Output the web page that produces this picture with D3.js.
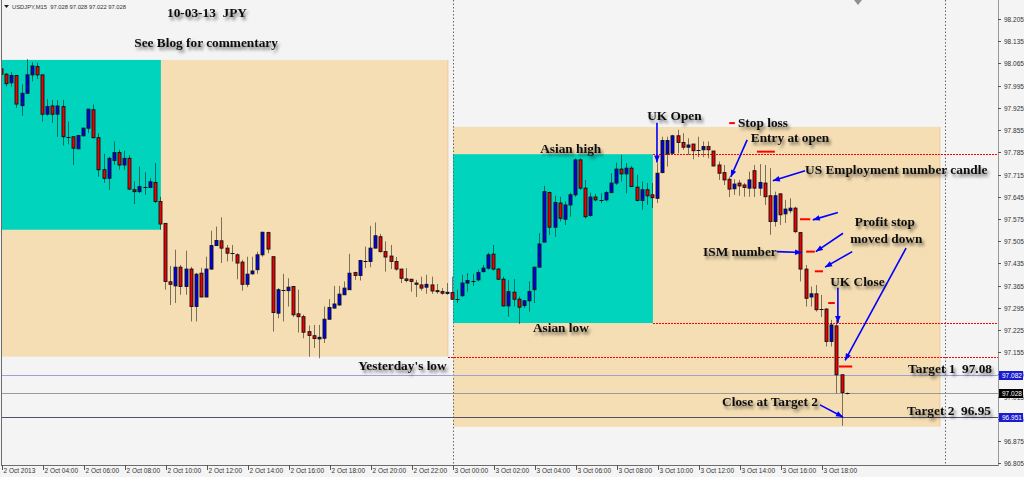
<!DOCTYPE html>
<html><head><meta charset="utf-8">
<script src="https://cdn.jsdelivr.net/npm/d3@7"></script>
<style>
html,body{margin:0;padding:0;background:#f4f4f4;}
svg{display:block;}
.ann{font-family:"Liberation Serif","Times New Roman",serif;font-weight:bold;font-size:13.33px;fill:#111;white-space:pre;}
.ax{font-family:"Liberation Sans",Arial,sans-serif;font-size:6.5px;fill:#333;}
</style>
</head><body>
<svg id="chart" width="1024" height="477"></svg>
<script>
// ---------------- DATA ----------------
const symbolInfo = "USDJPY,M15  97.028 97.028 97.022 97.028";
const firstBarTime = "2013-10-02 02:00";
const barMinutes = 15;

const open = [98.048,98.031,98.004,98.027,97.932,97.971,98.029,98.055,98.029,97.905,
97.931,97.905,97.929,97.834,97.834,97.796,97.837,97.861,97.919,97.831,
97.730,97.703,97.759,97.784,97.745,97.766,97.667,97.661,97.677,97.674,
97.690,97.630,97.561,97.377,97.364,97.423,97.362,97.417,97.299,97.404,
97.329,97.417,97.491,97.506,97.483,97.467,97.462,97.439,97.369,97.402,
97.415,97.462,97.532,97.456,97.278,97.350,97.349,97.362,97.276,97.267,
97.220,97.207,97.197,97.199,97.259,97.294,97.304,97.336,97.352,97.406,
97.397,97.444,97.441,97.483,97.519,97.472,97.458,97.441,97.417,97.386,
97.385,97.373,97.367,97.360,97.367,97.349,97.346,97.340,97.343,97.324,
97.333,97.373,97.380,97.383,97.409,97.420,97.464,97.417,97.385,97.301,
97.344,97.322,97.302,97.317,97.352,97.423,97.502,97.658,97.549,97.625,
97.574,97.619,97.651,97.761,97.672,97.586,97.644,97.635,97.635,97.658,
97.688,97.732,97.717,97.735,97.675,97.633,97.667,97.651,97.640,97.721,
97.780,97.782,97.837,97.816,97.801,97.811,97.791,97.793,97.803,97.789,
97.745,97.721,97.700,97.670,97.688,97.682,97.672,97.727,97.672,97.688,
97.648,97.567,97.654,97.591,97.601,97.609,97.532,97.417,97.329,97.339,
97.290,97.291,97.189,97.238,97.084,97.028];
const high = [98.054,98.035,98.038,98.027,97.999,98.079,98.069,98.067,98.029,97.953,
97.950,97.950,97.950,97.882,97.834,97.840,97.863,97.922,97.936,97.845,
97.780,97.771,97.819,97.793,97.790,97.777,97.693,97.740,97.722,97.703,
97.751,97.645,97.561,97.427,97.478,97.430,97.475,97.424,97.405,97.421,
97.456,97.538,97.551,97.580,97.493,97.493,97.467,97.446,97.456,97.456,
97.472,97.535,97.535,97.456,97.357,97.402,97.388,97.364,97.352,97.273,
97.239,97.241,97.241,97.299,97.322,97.364,97.364,97.378,97.465,97.409,
97.446,97.488,97.553,97.564,97.528,97.504,97.493,97.455,97.417,97.420,
97.385,97.383,97.393,97.399,97.393,97.370,97.357,97.373,97.393,97.352,
97.399,97.404,97.402,97.415,97.430,97.469,97.493,97.420,97.393,97.383,
97.385,97.330,97.320,97.378,97.423,97.530,97.679,97.661,97.648,97.645,
97.630,97.658,97.766,97.766,97.698,97.658,97.654,97.656,97.664,97.719,
97.752,97.777,97.751,97.742,97.714,97.693,97.688,97.688,97.751,97.834,
97.834,97.840,97.856,97.845,97.829,97.811,97.834,97.819,97.819,97.789,
97.756,97.745,97.708,97.700,97.698,97.688,97.724,97.745,97.748,97.745,
97.735,97.661,97.656,97.635,97.640,97.614,97.532,97.430,97.362,97.367,
97.336,97.294,97.257,97.257,97.084,97.028];
const low = [98.026,97.992,97.992,97.925,97.900,97.968,98.008,98.016,97.882,97.900,
97.878,97.834,97.806,97.810,97.745,97.795,97.834,97.845,97.829,97.708,
97.689,97.667,97.745,97.730,97.730,97.667,97.622,97.656,97.651,97.672,
97.625,97.541,97.352,97.304,97.310,97.336,97.336,97.252,97.252,97.329,
97.329,97.415,97.491,97.436,97.441,97.441,97.385,97.349,97.360,97.399,
97.402,97.456,97.467,97.220,97.262,97.252,97.299,97.266,97.217,97.199,
97.141,97.168,97.136,97.184,97.257,97.294,97.301,97.336,97.352,97.383,
97.381,97.420,97.423,97.483,97.469,97.409,97.417,97.412,97.373,97.375,
97.346,97.329,97.349,97.339,97.339,97.339,97.336,97.336,97.320,97.310,
97.330,97.346,97.364,97.378,97.406,97.415,97.412,97.383,97.299,97.267,
97.299,97.244,97.294,97.283,97.310,97.423,97.502,97.525,97.519,97.567,
97.556,97.582,97.645,97.667,97.577,97.582,97.630,97.625,97.630,97.656,
97.682,97.693,97.656,97.677,97.630,97.604,97.619,97.609,97.625,97.719,
97.740,97.780,97.782,97.793,97.777,97.763,97.770,97.770,97.766,97.740,
97.698,97.682,97.644,97.651,97.648,97.645,97.645,97.644,97.648,97.619,
97.525,97.551,97.556,97.562,97.593,97.530,97.378,97.299,97.299,97.283,
97.266,97.173,97.173,97.026,96.923,97.022];
const close = [98.031,98.001,98.027,97.937,97.971,98.029,98.057,98.029,97.905,97.929,
97.905,97.931,97.834,97.834,97.798,97.838,97.861,97.921,97.831,97.730,
97.703,97.766,97.784,97.745,97.766,97.669,97.661,97.677,97.677,97.692,
97.630,97.559,97.378,97.369,97.423,97.362,97.417,97.299,97.401,97.329,
97.417,97.491,97.507,97.483,97.467,97.467,97.436,97.369,97.401,97.411,
97.462,97.533,97.480,97.280,97.352,97.350,97.360,97.273,97.267,97.218,
97.208,97.198,97.202,97.259,97.296,97.307,97.338,97.357,97.404,97.397,
97.444,97.444,97.483,97.522,97.472,97.455,97.441,97.417,97.388,97.381,
97.378,97.369,97.357,97.369,97.348,97.346,97.341,97.344,97.322,97.324,
97.373,97.381,97.380,97.406,97.420,97.462,97.417,97.385,97.301,97.346,
97.322,97.297,97.317,97.346,97.423,97.496,97.661,97.549,97.627,97.577,
97.619,97.651,97.761,97.672,97.582,97.644,97.635,97.635,97.658,97.688,
97.732,97.717,97.735,97.677,97.633,97.667,97.648,97.642,97.719,97.822,
97.822,97.837,97.816,97.801,97.808,97.790,97.791,97.803,97.793,97.742,
97.719,97.698,97.669,97.685,97.679,97.674,97.698,97.672,97.690,97.645,
97.567,97.648,97.588,97.606,97.609,97.535,97.417,97.325,97.339,97.289,
97.290,97.189,97.241,97.084,97.028,97.028];

const priceTicks = [98.205,98.135,98.065,97.995,97.925,97.855,97.785,97.715,97.645,97.575,
97.505,97.435,97.365,97.295,97.225,97.155,97.085,97.015,96.945,96.875,96.805];

const timeTickTimes = ["2013-10-02 02:00","2013-10-02 04:00","2013-10-02 06:00","2013-10-02 08:00",
"2013-10-02 10:00","2013-10-02 12:00","2013-10-02 14:00","2013-10-02 16:00","2013-10-02 18:00",
"2013-10-02 20:00","2013-10-02 22:00","2013-10-03 00:00","2013-10-03 02:00","2013-10-03 04:00",
"2013-10-03 06:00","2013-10-03 08:00","2013-10-03 10:00","2013-10-03 12:00","2013-10-03 14:00",
"2013-10-03 16:00","2013-10-03 18:00"];
const timeTickLabels = ["2 Oct 2013","2 Oct 04:00","2 Oct 06:00","2 Oct 08:00","2 Oct 10:00",
"2 Oct 12:00","2 Oct 14:00","2 Oct 16:00","2 Oct 18:00","2 Oct 20:00","2 Oct 22:00",
"3 Oct 00:00","3 Oct 02:00","3 Oct 04:00","3 Oct 06:00","3 Oct 08:00","3 Oct 10:00",
"3 Oct 12:00","3 Oct 14:00","3 Oct 16:00","3 Oct 18:00"];

// session zones
const zoneStart = ["2013-10-02 02:00","2013-10-02 02:00","2013-10-03 00:00","2013-10-03 00:00"];
const zoneEnd   = ["2013-10-02 23:45","2013-10-02 09:45","2013-10-03 23:45","2013-10-03 09:45"];
const zoneTop   = [98.076, 98.076, 97.865, 97.779];
const zoneBottom= [97.141, 97.541, 96.920, 97.247];
const zoneKind  = ["day","asia","day","asia"];

// horizontal levels
const yesterdayLow = 97.141, asianHigh = 97.779, asianLow = 97.247;
const target1 = 97.082, bidPrice = 97.028, target2 = 96.951;

// red stop markers: [from bar, to bar, price]
const stopMarks = [[141.9,143.0,97.877],[147.3,150.8,97.787],[155.7,157.7,97.574],
[156.9,158.6,97.472],[158.6,160.2,97.410],[161.2,162.5,97.310],[163.3,165.9,97.110]];

// arrows: [from bar, from price, to bar, to price]
const arrows = [[127.8,97.878,127.8,97.753],[145.4,97.824,142.2,97.707],[156.7,97.727,150.4,97.695],
[163.1,97.595,158.2,97.572],[164.1,97.530,158.8,97.472],[165.9,97.472,160.6,97.423],
[151.2,97.472,156.1,97.469],[163.1,97.358,163.1,97.247],[176.4,97.483,164.5,97.129],
[159.6,96.989,164.1,96.951]];

// text notes: [bar, price, text]
const notes = [[32.2,98.227,"10-03-13  JPY"],[25.8,98.133,"See Blog for commentary"],
[105.0,97.799,"Asian high"],[103.6,97.232,"Asian low"],[125.9,97.903,"UK Open"],
[143.6,97.878,"Stop loss"],[146.1,97.833,"Entry at open"],[156.7,97.730,"US Employment number candle"],
[166.4,97.569,"Profit stop"],[165.5,97.515,"moved down"],[136.8,97.474,"ISM number"],
[161.6,97.377,"UK Close"],[69.5,97.115,"Yesterday's low"],[176.8,97.103,"Target 1  97.08"],
[140.5,97.001,"Close at Target 2"],[176.6,96.973,"Target 2  96.95"]];

// ---------------- DRAW ----------------
const W = 1024, H = 477;
const plotL = 2, plotR = 998, plotB = 465;
const parse = d3.timeParse("%Y-%m-%d %H:%M");
const t0 = parse(firstBarTime);
const barTime = i => new Date(t0.getTime() + i * barMinutes * 60000);
const x = d3.scaleTime().domain([parse("2013-10-02 02:00"), parse("2013-10-03 18:00")]).range([2, 822]);
const xb = i => x(barTime(i));
const y = d3.scaleLinear().domain([96.805, 98.205]).range([463.3, 19]);

const svg = d3.select("#chart");
const defs = svg.append("defs");
const f = defs.append("filter").attr("id","sh").attr("x","-10%").attr("y","-40%").attr("width","130%").attr("height","200%");
f.append("feGaussianBlur").attr("in","SourceAlpha").attr("stdDeviation",1.4);
f.append("feOffset").attr("dx",2).attr("dy",3).attr("result","b");
f.append("feFlood").attr("flood-color","#000").attr("flood-opacity",0.5);
f.append("feComposite").attr("in2","b").attr("operator","in");
const fm = f.append("feMerge"); fm.append("feMergeNode"); fm.append("feMergeNode").attr("in","SourceGraphic");
defs.append("marker").attr("id","ah").attr("viewBox","0 0 10 10").attr("refX",10).attr("refY",5)
  .attr("markerWidth",9).attr("markerHeight",7).attr("markerUnits","userSpaceOnUse").attr("orient","auto")
  .append("path").attr("d","M0,1L10,5L0,9Z").attr("fill","#0000ff");
defs.append("clipPath").attr("id","plot").append("rect").attr("x",plotL).attr("y",0).attr("width",plotR-plotL).attr("height",plotB);

svg.append("rect").attr("width",W).attr("height",H).attr("fill","#f4f4f4");
const g = svg.append("g").attr("clip-path","url(#plot)");

// zones (day first, then asia)
const zoneColor = {day:"#f5deb3", asia:"#00d4bd"};
const zIdx = d3.range(zoneKind.length).sort((a,b)=> (zoneKind[a]==="day"?0:1)-(zoneKind[b]==="day"?0:1));
g.selectAll("rect.zone").data(zIdx).join("rect").attr("class","zone")
  .attr("x", i => x(parse(zoneStart[i])))
  .attr("y", i => y(zoneTop[i]))
  .attr("width", i => x(parse(zoneEnd[i])) - x(parse(zoneStart[i])))
  .attr("height", i => y(zoneBottom[i]) - y(zoneTop[i]))
  .attr("fill", i => zoneColor[zoneKind[i]]);
g.selectAll("line.zedge").data(zIdx.filter(i=>zoneKind[i]==="day")).join("line")
  .attr("x1", i => x(parse(zoneEnd[i]))).attr("x2", i => x(parse(zoneEnd[i])))
  .attr("y1", i => y(zoneTop[i])).attr("y2", i => y(zoneBottom[i]))
  .attr("stroke","#f0c890").attr("stroke-width",1);

// period separators
["2013-10-03 00:00","2013-10-04 00:00"].forEach(t => {
  const xx = Math.round(x(parse(t))) + 0.5;
  g.append("line").attr("x1",xx).attr("x2",xx).attr("y1",0).attr("y2",plotB)
    .attr("stroke","#666").attr("stroke-width",1).attr("stroke-dasharray","1.5,2");
});

// full-width horizontal levels
const hl = (p, col, w) => g.append("line").attr("x1",plotL).attr("x2",plotR)
  .attr("y1",Math.round(y(p))+0.5).attr("y2",Math.round(y(p))+0.5).attr("stroke",col).attr("stroke-width",w);
hl(target1, "#a0a0d8", 1);
hl(bidPrice, "#9a9a9a", 1);
hl(target2, "#505068", 1);

// red dotted levels
const dl = (tStart, p) => g.append("line").attr("x1",Math.round(x(parse(tStart)))).attr("x2",plotR)
  .attr("y1",Math.round(y(p))+0.5).attr("y2",Math.round(y(p))+0.5)
  .attr("stroke","#ff0000").attr("stroke-width",1).attr("stroke-dasharray","2,1");
dl("2013-10-02 23:45", yesterdayLow);
dl("2013-10-03 09:45", asianHigh);
dl("2013-10-03 09:45", asianLow);

// candles
const idx = d3.range(open.length);
const cx = i => Math.round(xb(i));
g.selectAll("line.wick").data(idx).join("line").attr("class","wick")
  .attr("x1", i => cx(i)-0.5).attr("x2", i => cx(i)-0.5)
  .attr("y1", i => y(high[i])).attr("y2", i => y(low[i]))
  .attr("stroke","#000").attr("stroke-opacity",0.5).attr("stroke-width",1);
const bodyIdx = idx.filter(i => Math.abs(open[i]-close[i]) >= 0.002);
g.selectAll("rect.body").data(bodyIdx).join("rect").attr("class","body")
  .attr("x", i => cx(i)-1.5-0.5)
  .attr("y", i => y(Math.max(open[i],close[i])))
  .attr("width", 3)
  .attr("height", i => Math.max(1, y(Math.min(open[i],close[i])) - y(Math.max(open[i],close[i]))))
  .attr("fill", i => close[i] > open[i] ? "#0000f0" : "#f00000")
  .attr("stroke","#111").attr("stroke-width",0.9);
g.selectAll("line.doji").data(idx.filter(i => Math.abs(open[i]-close[i]) < 0.002)).join("line")
  .attr("x1", i => cx(i)-2.5).attr("x2", i => cx(i)+1.5)
  .attr("y1", i => Math.round(y(close[i]))+0.5).attr("y2", i => Math.round(y(close[i]))+0.5)
  .attr("stroke","#111").attr("stroke-width",1);

// stop markers
g.selectAll("line.stop").data(stopMarks).join("line")
  .attr("x1", d => xb(d[0])).attr("x2", d => xb(d[1]))
  .attr("y1", d => y(d[2])).attr("y2", d => y(d[2]))
  .attr("stroke","#ff0000").attr("stroke-width",2);

// arrows
g.selectAll("line.arrow").data(arrows).join("line")
  .attr("x1", d => xb(d[0])).attr("y1", d => y(d[1]))
  .attr("x2", d => xb(d[2])).attr("y2", d => y(d[3]))
  .attr("stroke","#0000ff").attr("stroke-width",1.6).attr("marker-end","url(#ah)");

// notes
svg.selectAll("text.ann").data(notes).join("text").attr("class","ann")
  .attr("x", d => xb(d[0])).attr("y", d => y(d[1]))
  .attr("dy","0.35em").attr("filter","url(#sh)")
  .text(d => d[2]);

// frame
svg.append("line").attr("x1",1.5).attr("x2",1.5).attr("y1",0).attr("y2",plotB).attr("stroke","#6d6d6d");
svg.append("line").attr("x1",1).attr("x2",plotR).attr("y1",plotB+0.5).attr("y2",plotB+0.5).attr("stroke","#6d6d6d");
svg.append("line").attr("x1",plotR+0.5).attr("x2",plotR+0.5).attr("y1",0).attr("y2",plotB+1).attr("stroke","#9a9a9a");

// price axis
const pa = svg.append("g");
priceTicks.forEach(p => {
  const yy = Math.round(y(p)) + 0.5;
  pa.append("line").attr("x1",plotR).attr("x2",plotR+3).attr("y1",yy).attr("y2",yy).attr("stroke","#555");
  pa.append("text").attr("class","ax").attr("x",plotR+6).attr("y",yy).attr("dy","0.35em").text(p.toFixed(3));
});
const tag = (p, bg) => {
  const yy = Math.round(y(p));
  pa.append("rect").attr("x",plotR+1).attr("y",yy-4).attr("width",24).attr("height",9).attr("fill",bg);
  pa.append("text").attr("class","ax").attr("x",plotR+4).attr("y",yy+0.5).attr("dy","0.35em").style("fill","#fff").text(p.toFixed(3));
};
tag(target1, "#1a1ad0");
tag(bidPrice, "#000000");
tag(target2, "#1a1ad0");

// time axis
const ta = svg.append("g");
timeTickTimes.forEach((t,i) => {
  const xx = Math.round(x(parse(t))) + 0.5;
  ta.append("line").attr("x1",xx).attr("x2",xx).attr("y1",plotB).attr("y2",plotB+5).attr("stroke","#555");
  ta.append("text").attr("class","ax").attr("x",xx+1).attr("y",473).text(timeTickLabels[i]);
});

// header info
svg.append("path").attr("d","M4,5L9,5L6.5,8Z").attr("fill","#222");
svg.append("text").attr("class","ax").attr("x",12).attr("y",8.5).style("font-size","5.8px").style("white-space","pre").text(symbolInfo);
// chart shift marker
svg.append("path").attr("d","M854,0L862,0L858,5Z").attr("fill","#909090");
</script>
</body></html>
